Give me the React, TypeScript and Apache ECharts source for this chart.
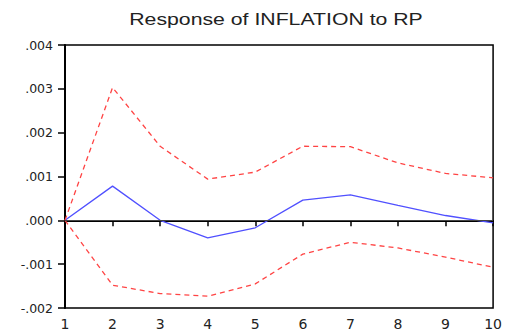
import React, { useEffect, useRef } from "react";
import * as echarts from "echarts";

const periods = ["1", "2", "3", "4", "5", "6", "7", "8", "9", "10"];
const response = [0, 0.00078, 0.0, -0.0004, -0.00017, 0.00046, 0.00058, 0.00034, 0.00011, -0.00006];
const upperBand = [0, 0.00303, 0.00169, 0.00094, 0.0011, 0.00169, 0.00168, 0.00131, 0.00107, 0.00097];
const lowerBand = [0, -0.00148, -0.00167, -0.00173, -0.00145, -0.00077, -0.0005, -0.00063, -0.00084, -0.00107];

const titleText = "Response of INFLATION to RP";

const fmt = (v: number) => {
  const s = (Math.round(v * 1000) / 1000).toFixed(3);
  return s.replace("0.", ".");
};

export default function App() {
  const ref = useRef<HTMLDivElement>(null);
  useEffect(() => {
    if (!ref.current) return;
    const chart = echarts.init(ref.current, null, { renderer: "svg" });
    const titleFont = "'Liberation Sans', Arial, sans-serif";
    const labelFont = "'DejaVu Sans', sans-serif";
    chart.setOption({
      animation: false,
      backgroundColor: "#fff",
      graphic: [
        {
          type: "text",
          x: 276,
          y: 19,
          scaleX: 1.25,
          style: {
            text: titleText,
            fontFamily: titleFont,
            fontSize: 17,
            fill: "#222",
            textAlign: "center",
            textVerticalAlign: "middle",
          },
        },
      ],
      grid: {
        left: 65,
        right: 11,
        top: 45,
        bottom: 23,
        show: true,
        borderColor: "#000",
        borderWidth: 1.5,
        backgroundColor: "transparent",
      },
      xAxis: {
        type: "category",
        data: periods,
        boundaryGap: false,
        axisLine: { lineStyle: { color: "#000", width: 2 } },
        axisTick: { show: true, length: 6, lineStyle: { color: "#000", width: 1.5 } },
        axisLabel: { fontFamily: labelFont, fontSize: 14, color: "#222", margin: 9 },
        splitLine: { show: false },
      },
      yAxis: {
        type: "value",
        min: -0.002,
        max: 0.004,
        interval: 0.001,
        axisLine: { show: true, lineStyle: { color: "#000", width: 2 } },
        axisTick: { show: true, length: 7, lineStyle: { color: "#000", width: 1.5 } },
        axisLabel: { fontFamily: labelFont, fontSize: 12.5, color: "#222", margin: 12, formatter: fmt },
        splitLine: { show: false },
      },
      series: [
        {
          type: "line",
          data: response,
          symbol: "none",
          lineStyle: { color: "#5050ff", width: 1.3 },
          markLine: {
            silent: true,
            symbol: "none",
            label: { show: false },
            lineStyle: { color: "#444", width: 1, type: "solid" },
            data: [{ yAxis: 0 }],
          },
          z: 3,
        },
        {
          type: "line",
          data: upperBand,
          symbol: "none",
          lineStyle: { color: "#ff4444", width: 1.3, type: [5, 4] },
        },
        {
          type: "line",
          data: lowerBand,
          symbol: "none",
          lineStyle: { color: "#ff4444", width: 1.3, type: [5, 4] },
        },
      ],
    });
    return () => chart.dispose();
  }, []);
  return <div ref={ref} style={{ width: 505, height: 331, position: "absolute", left: 0, top: 0 }} />;
}
